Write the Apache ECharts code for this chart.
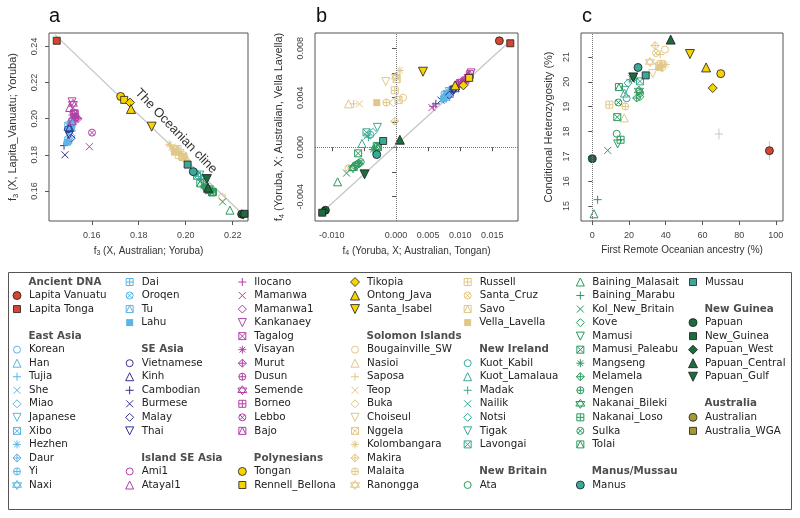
<!DOCTYPE html>
<html><head><meta charset="utf-8">
<script src="https://cdn.jsdelivr.net/npm/echarts@6/dist/echarts.min.js"></script>
<style>html,body{margin:0;padding:0;background:#fff}#c{width:800px;height:518px}</style>
</head><body><div id="c"></div>
<script>
// ---------- groups ----------
const groupNames = ['Ancient DNA','East Asia','SE Asia','Island SE Asia','Polynesians','Solomon Islands','New Ireland','New Britain','Manus/Mussau','New Guinea','Australia'];
const groupColors = ['#d6452f','#5cb5e6','#35318f','#b13fa6','#f7d300','#e2c887','#3aa996','#2a9a5c','#3aa89b','#1d6b3f','#a39a30'];
const groupFilled = [true,false,false,false,true,false,false,false,true,true,true];
const groupMembers = [
 ['Lapita Vanuatu','Lapita Tonga'],
 ['Korean','Han','Tujia','She','Miao','Japanese','Xibo','Hezhen','Daur','Yi','Naxi','Dai','Oroqen','Tu','Lahu'],
 ['Vietnamese','Kinh','Cambodian','Burmese','Malay','Thai'],
 ['Ami1','Atayal1','Ilocano','Mamanwa','Mamanwa1','Kankanaey','Tagalog','Visayan','Murut','Dusun','Semende','Borneo','Lebbo','Bajo'],
 ['Tongan','Rennell_Bellona','Tikopia','Ontong_Java','Santa_Isabel'],
 ['Bougainville_SW','Nasioi','Saposa','Teop','Buka','Choiseul','Nggela','Kolombangara','Makira','Malaita','Ranongga','Russell','Santa_Cruz','Savo','Vella_Lavella'],
 ['Kuot_Kabil','Kuot_Lamalaua','Madak','Nailik','Notsi','Tigak','Lavongai'],
 ['Ata','Baining_Malasait','Baining_Marabu','Kol_New_Britain','Kove','Mamusi','Mamusi_Paleabu','Mangseng','Melamela','Mengen','Nakanai_Bileki','Nakanai_Loso','Sulka','Tolai'],
 ['Manus','Mussau'],
 ['Papuan','New_Guinea','Papuan_West','Papuan_Central','Papuan_Gulf'],
 ['Australian','Australia_WGA']
];

// ---------- panel a: f3(X, Australian; Yoruba) vs f3(X, Lapita_Vanuatu; Yoruba) ----------
const panelA = [
 ['Korean',0.1510,0.1950],['Han',0.1505,0.1962],['Tujia',0.1497,0.1935],['She',0.1502,0.1920],['Miao',0.1512,0.1905],
 ['Japanese',0.1515,0.1968],['Xibo',0.1500,0.1962],['Hezhen',0.1516,0.1978],['Daur',0.1508,0.1972],['Yi',0.1503,0.1928],
 ['Naxi',0.1511,0.1944],['Dai',0.1500,0.1880],['Oroqen',0.1513,0.1982],['Tu',0.1512,0.1962],['Lahu',0.1496,0.1870],
 ['Vietnamese',0.1499,0.1942],['Kinh',0.1506,0.1952],['Cambodian',0.1482,0.1851],['Burmese',0.1486,0.1800],['Malay',0.1512,0.1892],['Thai',0.1504,0.1910],
 ['Ami1',0.1522,0.2035],['Atayal1',0.1506,0.2062],['Ilocano',0.1518,0.2020],['Mamanwa',0.1590,0.1845],['Mamanwa1',0.1536,0.2005],
 ['Kankanaey',0.1516,0.2093],['Tagalog',0.1526,0.2025],['Visayan',0.1530,0.2012],['Murut',0.1541,0.2000],['Dusun',0.1532,0.2008],
 ['Semende',0.1520,0.2082],['Borneo',0.1527,0.2030],['Lebbo',0.1601,0.1923],['Bajo',0.1518,0.1985],
 ['Bougainville_SW',0.2155,0.1567],['Nasioi',0.1985,0.1795],['Saposa',0.1935,0.1850],['Teop',0.1942,0.1843],['Buka',0.1962,0.1818],
 ['Choiseul',0.1975,0.1808],['Nggela',0.1988,0.1788],['Kolombangara',0.1930,0.1858],['Makira',0.2002,0.1770],['Malaita',0.1996,0.1780],
 ['Ranongga',0.1955,0.1830],['Russell',0.1970,0.1800],['Santa_Cruz',0.1992,0.1798],['Savo',0.1965,0.1832],['Vella_Lavella',0.1952,0.1815],
 ['Kuot_Kabil',0.2040,0.1700],['Kuot_Lamalaua',0.2082,0.1652],['Madak',0.2065,0.1668],['Nailik',0.2072,0.1663],['Notsi',0.2055,0.1680],['Tigak',0.2060,0.1688],['Lavongai',0.2048,0.1684],
 ['Ata',0.2090,0.1612],['Baining_Malasait',0.2188,0.1494],['Baining_Marabu',0.2105,0.1600],['Kol_New_Britain',0.2157,0.1540],['Kove',0.2080,0.1622],
 ['Mamusi',0.2100,0.1606],['Mamusi_Paleabu',0.2112,0.1592],['Mangseng',0.2075,0.1628],['Melamela',0.2096,0.1612],['Mengen',0.2086,0.1618],
 ['Nakanai_Bileki',0.2101,0.1598],['Nakanai_Loso',0.2116,0.1594],['Sulka',0.2108,0.1603],['Tolai',0.2062,0.1642],
 ['Lapita Tonga',0.1451,0.2431],
 ['Tongan',0.1723,0.2123],['Rennell_Bellona',0.1738,0.2104],['Tikopia',0.1763,0.2089],['Ontong_Java',0.1767,0.2054],['Santa_Isabel',0.1855,0.1956],
 ['Manus',0.2032,0.1707],['Mussau',0.2008,0.1746],
 ['Papuan_Central',0.2095,0.1618],['Papuan_Gulf',0.2090,0.1666],['Papuan',0.2238,0.1472],['Papuan_West',0.2244,0.1470],['New_Guinea',0.2250,0.1474]
];

// ---------- panel b: f4(Yoruba, X; Australian, Tongan) vs f4(Yoruba, X; Australian, Vella Lavella) ----------
const panelB = [
 ['Korean',0.0080,0.0042],['Han',0.0078,0.0041],['Tujia',0.0075,0.0040],['She',0.0082,0.0043],['Miao',0.0085,0.0044],
 ['Japanese',0.0083,0.0045],['Xibo',0.0079,0.0043],['Hezhen',0.0088,0.0046],['Daur',0.0086,0.0045],['Yi',0.0077,0.0041],
 ['Naxi',0.0081,0.0044],['Dai',0.0084,0.0043],['Oroqen',0.0087,0.0047],['Tu',0.0076,0.0042],['Lahu',0.0074,0.0039],
 ['Vietnamese',0.0089,0.0047],['Kinh',0.0092,0.0048],['Cambodian',0.0062,0.0035],['Burmese',0.0070,0.0038],['Malay',0.0083,0.0042],['Thai',0.0090,0.0046],
 ['Ami1',0.0110,0.0055],['Atayal1',0.0112,0.0058],['Ilocano',0.0058,0.0033],['Mamanwa',0.0056,0.0032],['Mamanwa1',0.0105,0.0053],
 ['Kankanaey',0.0117,0.0060],['Tagalog',0.0100,0.0052],['Visayan',0.0098,0.0050],['Murut',0.0102,0.0053],['Dusun',0.0097,0.0051],
 ['Semende',0.0113,0.0057],['Borneo',0.0108,0.0054],['Lebbo',0.0095,0.0050],['Bajo',0.0115,0.0059],
 ['Bougainville_SW',0.0011,0.0040],['Nasioi',-0.0074,0.0035],['Saposa',-0.0066,0.0035],['Teop',-0.0057,0.0035],['Buka',-0.0004,0.0036],
 ['Choiseul',-0.0016,0.0053],['Nggela',0.0004,0.0038],['Kolombangara',0.0006,0.0062],['Makira',-0.0002,0.0021],['Malaita',-0.0015,0.0036],
 ['Ranongga',0.0000,0.0057],['Russell',-0.0002,0.0046],['Santa_Cruz',-0.0074,-0.0017],['Savo',0.0001,0.0055],['Vella_Lavella',-0.0030,0.0036],
 ['Kuot_Kabil',-0.0040,0.0010],['Kuot_Lamalaua',-0.0053,0.0003],['Madak',-0.0043,0.0008],['Nailik',-0.0045,0.0009],['Notsi',-0.0036,0.0012],['Tigak',-0.0029,0.0016],['Lavongai',-0.0046,0.0012],
 ['Ata',-0.0060,-0.0014],['Baining_Malasait',-0.0091,-0.0028],['Baining_Marabu',-0.0033,-0.0002],['Kol_New_Britain',-0.0077,-0.0021],['Kove',-0.0031,0.0000],
 ['Mamusi',-0.0062,-0.0016],['Mamusi_Paleabu',-0.0059,-0.0005],['Mangseng',-0.0036,-0.0002],['Melamela',-0.0065,-0.0015],['Mengen',-0.0058,-0.0013],
 ['Nakanai_Bileki',-0.0067,-0.0017],['Nakanai_Loso',-0.0030,0.0001],['Sulka',-0.0055,-0.0012],['Tolai',-0.0028,0.0000],
 ['Lapita Vanuatu',0.0161,0.0086],['Lapita Tonga',0.0178,0.0084],
 ['Rennell_Bellona',0.0114,0.0056],['Tikopia',0.0105,0.0050],['Ontong_Java',0.0092,0.0050],['Santa_Isabel',0.0042,0.0061],
 ['Manus',-0.0030,-0.0006],['Mussau',-0.0020,0.0005],
 ['Papuan_Central',0.0006,0.0006],['Papuan_Gulf',-0.0049,-0.0022],['Papuan',-0.0110,-0.0051],['Papuan_West',-0.0112,-0.0052],['New_Guinea',-0.0115,-0.0053]
];

// ---------- panel c: First Remote Oceanian ancestry (%) vs Conditional Heterozygosity (%) ----------
const panelC = [
 ['Bougainville_SW',39.6,21.30],['Nasioi',17.4,18.55],['Saposa',37.0,21.10],['Teop',35.5,20.62],['Buka',38.0,20.55],
 ['Choiseul',32.9,20.33],['Nggela',36.5,20.65],['Kolombangara',40.0,20.70],['Makira',34.2,21.46],['Malaita',18.0,19.01],
 ['Ranongga',31.4,20.80],['Russell',9.3,19.08],['Santa_Cruz',34.7,21.16],['Savo',37.5,20.72],['Vella_Lavella',36.8,20.58],
 ['Kuot_Kabil',18.7,19.34],['Kuot_Lamalaua',17.5,19.55],['Madak',20.5,20.08],['Nailik',21.5,20.12],['Notsi',19.5,19.95],['Tigak',17.8,19.66],['Lavongai',26.0,20.02],
 ['Ata',13.3,17.91],['Baining_Malasait',0.9,14.69],['Baining_Marabu',2.9,15.26],['Kol_New_Britain',8.4,17.24],['Kove',25.9,19.40],
 ['Mamusi',13.8,17.50],['Mamusi_Paleabu',13.6,18.58],['Mangseng',22.8,20.12],['Melamela',24.2,19.35],['Mengen',26.0,19.55],
 ['Nakanai_Bileki',25.4,19.65],['Nakanai_Loso',15.4,17.67],['Sulka',14.2,19.17],['Tolai',14.5,19.79],
 ['Lapita Vanuatu',96.5,17.23],
 ['Tongan',70.0,20.33],['Tikopia',65.6,19.75],['Ontong_Java',62.0,20.58],['Santa_Isabel',53.2,21.12],
 ['Manus',24.9,20.58],['Mussau',29.1,20.26],
 ['Papuan',0.0,16.91],['Papuan_Central',42.7,21.70],['Papuan_Gulf',22.3,20.18]
];
// error bars in panel c: [x, y, xHalf, yHalf]
const panelCErr = [[96.5,17.23,2.2,0.38],[69.0,17.90,2.2,0.22]];

// ---------- axis ticks ----------
const aXTicks = [0.16,0.18,0.20,0.22];
const aYTicks = [0.16,0.18,0.20,0.22,0.24];
const bXTicks = [-0.010,-0.005,0.000,0.005,0.010,0.015];
const bXLabels = [-0.010,0.000,0.005,0.010,0.015];
const bYTicks = [-0.004,-0.002,0.000,0.002,0.004,0.006,0.008];
const bYLabels = [-0.004,0.000,0.004,0.008];
const cXTicks = [0,20,40,60,80,100];
const cYTicks = [15,16,17,18,19,20,21];

// reference lines
const clineA = [[0.1443,0.2465],[0.2258,0.1452]];
const clineB = [[-0.0118,-0.0054],[0.0176,0.0085]];
const clineLabelAt = [0.1958,0.1931];

// ---------- symbols ----------
const OPEN = [
 'path://M0,5A5,5,0,1,1,10,5A5,5,0,1,1,0,5Z',
 'path://M5,0L10,8.66L0,8.66Z',
 'path://M0,5L10,5M5,0L5,10',
 'path://M0,0L10,10M10,0L0,10',
 'path://M5,0L10,5L5,10L0,5Z',
 'path://M0,0L10,0L5,8.66Z',
 'path://M0,0L10,0L10,10L0,10ZM0,0L10,10M10,0L0,10',
 'path://M0,5L10,5M5,0L5,10M1.5,1.5L8.5,8.5M8.5,1.5L1.5,8.5',
 'path://M5,0L10,5L5,10L0,5ZM0,5L10,5M5,0L5,10',
 'path://M0,5A5,5,0,1,1,10,5A5,5,0,1,1,0,5ZM0,5L10,5M5,0L5,10',
 'path://M5,0L9.33,7.5L0.67,7.5ZM5,10L9.33,2.5L0.67,2.5Z',
 'path://M0,0L10,0L10,10L0,10ZM0,5L10,5M5,0L5,10',
 'path://M0,5A5,5,0,1,1,10,5A5,5,0,1,1,0,5ZM1.46,1.46L8.54,8.54M8.54,1.46L1.46,8.54',
 'path://M0,0L10,0L10,10L0,10ZM0,10L5,0L10,10',
 'rect'
];
const OPEN_SIZE = [7,8,8,7,8,8,7,8,8,7,9,7,7,7,7];
const FILLED = ['circle','rect','diamond','triangle','path://M0,0L10,0L5,8.66Z'];
const FILLED_SIZE = [8,7,9,9,9];

const lookup = {};
groupMembers.forEach((m, gi) => m.forEach((n, i) => { lookup[n] = [gi, i]; }));

function styleOf(name, scale) {
  const [gi, i] = lookup[name];
  const c = groupColors[gi];
  scale = scale || 1;
  if (groupFilled[gi]) {
    return {filled: 2, symbol: FILLED[i], size: FILLED_SIZE[i] * scale,
      itemStyle: {color: c, borderColor: '#1a1a1a', borderWidth: 0.8, opacity: 1}};
  }
  if (i === 14) return {filled: 1, symbol: 'rect', size: 7 * scale, itemStyle: {color: c, borderWidth: 0, opacity: 1}};
  return {filled: 0, symbol: OPEN[i], size: OPEN_SIZE[i] * scale,
    itemStyle: {color: 'rgba(0,0,0,0)', borderColor: c, borderWidth: 1, opacity: 1}};
}

function panelItems(data) {
  const items = data.map(([n, x, y]) => {
    const s = styleOf(n);
    return {name: n, value: [x, y], symbol: s.symbol, symbolSize: s.size, itemStyle: s.itemStyle, _f: s.filled};
  });
  return items.map((d, k) => [d, k]).sort((p, q) => (p[0]._f - q[0]._f) || (p[1] - q[1])).map(p => p[0]);
}

// ---------- legend flow ----------
const ROWS = 16;
const legendItems = [];
let pos = 0;
groupNames.forEach((g, gi) => {
  if (gi > 0) pos++; // blank row between groups
  legendItems.push({header: true, name: g, col: Math.floor(pos / ROWS), row: pos % ROWS}); pos++;
  groupMembers[gi].forEach(n => { legendItems.push({header: false, name: n, col: Math.floor(pos / ROWS), row: pos % ROWS}); pos++; });
});

const FONT_AX = 'Liberation Sans';
const FONT_LEG = 'DejaVu Sans';
const LEG_FS = 10.3;

const legendData = legendItems.map(it => {
  if (it.header) {
    return {name: it.name, value: [it.col, it.row], symbolSize: 0,
      label: {show: true, position: 'right', distance: 11.5, formatter: '{b}', fontFamily: FONT_LEG, fontSize: LEG_FS, fontWeight: 'bold', color: '#222'}};
  }
  const s = styleOf(it.name);
  return {name: it.name, value: [it.col, it.row], symbol: s.symbol, symbolSize: s.size, itemStyle: s.itemStyle,
    label: {show: true, position: 'right', distance: 11.5 - s.size / 2, formatter: '{b}', fontFamily: FONT_LEG, fontSize: LEG_FS, color: '#222'}};
});

// ---------- axes helpers ----------
function rich(fs) {
  return {
    i: {fontFamily: FONT_AX, fontSize: fs, color: '#333'},
    s: {fontFamily: FONT_AX, fontSize: fs * 0.7, color: '#333', verticalAlign: 'bottom', padding: [fs * 0.5, 0, 0, 0]}
  };
}
function xAxis(gi, min, max, ticks, labels, fmt, name) {
  return {type: 'value', gridIndex: gi, min, max, splitLine: {show: false},
    axisLine: {show: false}, axisTick: {show: true, length: 4, inside: false, customValues: ticks, lineStyle: {color: '#555'}},
    axisLabel: {customValues: labels, formatter: fmt, margin: 10, fontFamily: FONT_AX, fontSize: 9, color: '#444'},
    name, nameLocation: 'middle', nameGap: 24, nameTextStyle: {rich: rich(10), fontFamily: FONT_AX, fontSize: 10, color: '#333'}};
}
function yAxis(gi, min, max, ticks, labels, fmt, name, gap) {
  return {type: 'value', gridIndex: gi, min, max, splitLine: {show: false},
    axisLine: {show: false}, axisTick: {show: true, length: 4, inside: false, customValues: ticks, lineStyle: {color: '#555'}},
    axisLabel: {customValues: labels, formatter: fmt, rotate: 90, margin: 10, fontFamily: FONT_AX, fontSize: 9, color: '#444'},
    name, nameLocation: 'middle', nameRotate: 90, nameGap: gap, nameTextStyle: {rich: rich(11), fontFamily: FONT_AX, fontSize: 11, color: '#333'}};
}
const f2 = v => v.toFixed(2), f3 = v => v.toFixed(3), f0 = v => String(Math.round(v));

const gridStyle = {show: true, borderColor: '#555', borderWidth: 1, backgroundColor: 'transparent', containLabel: false};

const option = {
  animation: false,
  backgroundColor: '#fff',
  grid: [
    Object.assign({left: 49, top: 33, width: 199, height: 188}, gridStyle),
    Object.assign({left: 315, top: 33, width: 203, height: 188}, gridStyle),
    Object.assign({left: 581, top: 33, width: 202, height: 188}, gridStyle),
    {left: 17, top: 282, width: 676, height: 203, show: false}
  ],
  xAxis: [
    xAxis(0, 0.1418, 0.2265, aXTicks, aXTicks, f2, '{i|f}{s|3}{i| (X, Australian; Yoruba)}'),
    xAxis(1, -0.01262, 0.0190, bXTicks, bXLabels, f3, '{i|f}{s|4}{i| (Yoruba, X; Australian, Tongan)}'),
    xAxis(2, -6.16, 103.9, cXTicks, cXTicks, f0, '{i|First Remote Oceanian ancestry (%)}'),
    {type: 'value', gridIndex: 3, min: 0, max: 6, show: false}
  ],
  yAxis: [
    yAxis(0, 0.1434, 0.2474, aYTicks, aYTicks, f2, '{i|f}{s|3}{i| (X, Lapita_Vanuatu; Yoruba)}', 29),
    yAxis(1, -0.00597, 0.00923, bYTicks, bYLabels, f3, '{i|f}{s|4}{i| (Yoruba, X; Australian, Vella Lavella)}', 29),
    yAxis(2, 14.40, 21.966, cYTicks, cYTicks, f0, '{i|Conditional Heterozygosity (%)}', 27),
    {type: 'value', gridIndex: 3, min: 0, max: 15, inverse: true, show: false}
  ],
  series: [
    {type: 'line', xAxisIndex: 0, yAxisIndex: 0, data: clineA, symbol: 'none', silent: true, z: 1,
      lineStyle: {color: '#c6c6c6', width: 1.3}},
    {type: 'line', xAxisIndex: 1, yAxisIndex: 1, data: clineB, symbol: 'none', silent: true, z: 1,
      lineStyle: {color: '#c6c6c6', width: 1.3},
      markLine: {silent: true, symbol: 'none', label: {show: false}, lineStyle: {type: 'dotted', color: '#777', width: 1},
        data: [{xAxis: 0}, {yAxis: 0}]}},
    {type: 'line', xAxisIndex: 2, yAxisIndex: 2, data: [], symbol: 'none', silent: true, z: 1,
      markLine: {silent: true, symbol: 'none', label: {show: false}, lineStyle: {type: 'dotted', color: '#777', width: 1},
        data: [{xAxis: 0}]}},
    ...panelCErr.flatMap(([x, y, dx, dy]) => [
      {type: 'line', xAxisIndex: 2, yAxisIndex: 2, data: [[x, y - dy], [x, y + dy]], symbol: 'none', silent: true, z: 1, lineStyle: {color: '#c8c8c8', width: 1}},
      {type: 'line', xAxisIndex: 2, yAxisIndex: 2, data: [[x - dx, y], [x + dx, y]], symbol: 'none', silent: true, z: 1, lineStyle: {color: '#c8c8c8', width: 1}}
    ]),
    {type: 'scatter', xAxisIndex: 0, yAxisIndex: 0, data: panelItems(panelA), silent: true, z: 3, clip: false},
    {type: 'scatter', xAxisIndex: 1, yAxisIndex: 1, data: panelItems(panelB), silent: true, z: 3, clip: false},
    {type: 'scatter', xAxisIndex: 2, yAxisIndex: 2, data: panelItems(panelC), silent: true, z: 3, clip: false},
    {type: 'scatter', xAxisIndex: 3, yAxisIndex: 3, data: legendData, silent: true, z: 3, clip: false, labelLayout: {hideOverlap: false}}
  ]
};

const chart = echarts.init(document.getElementById('c'), null, {renderer: 'canvas', width: 800, height: 518});
chart.setOption(option);

const lp = chart.convertToPixel({gridIndex: 0}, clineLabelAt);
chart.setOption({
  graphic: [
    {type: 'rect', silent: true, shape: {x: 8.5, y: 272.5, width: 783, height: 237}, style: {fill: 'none', stroke: '#555', lineWidth: 1}},
    {type: 'text', silent: true, x: 49, y: 26, style: {text: 'a', fontFamily: FONT_AX, fontSize: 20, fill: '#111', align: 'left', verticalAlign: 'bottom'}},
    {type: 'text', silent: true, x: 316, y: 26, style: {text: 'b', fontFamily: FONT_AX, fontSize: 20, fill: '#111', align: 'left', verticalAlign: 'bottom'}},
    {type: 'text', silent: true, x: 582, y: 26, style: {text: 'c', fontFamily: FONT_AX, fontSize: 20, fill: '#111', align: 'left', verticalAlign: 'bottom'}},
    {type: 'text', silent: true, x: lp[0], y: lp[1], rotation: -46 * Math.PI / 180,
      style: {text: 'The Oceanian cline', fontFamily: FONT_AX, fontSize: 13, fill: '#333', align: 'center', verticalAlign: 'middle'}}
  ]
});
</script>
</body></html>
